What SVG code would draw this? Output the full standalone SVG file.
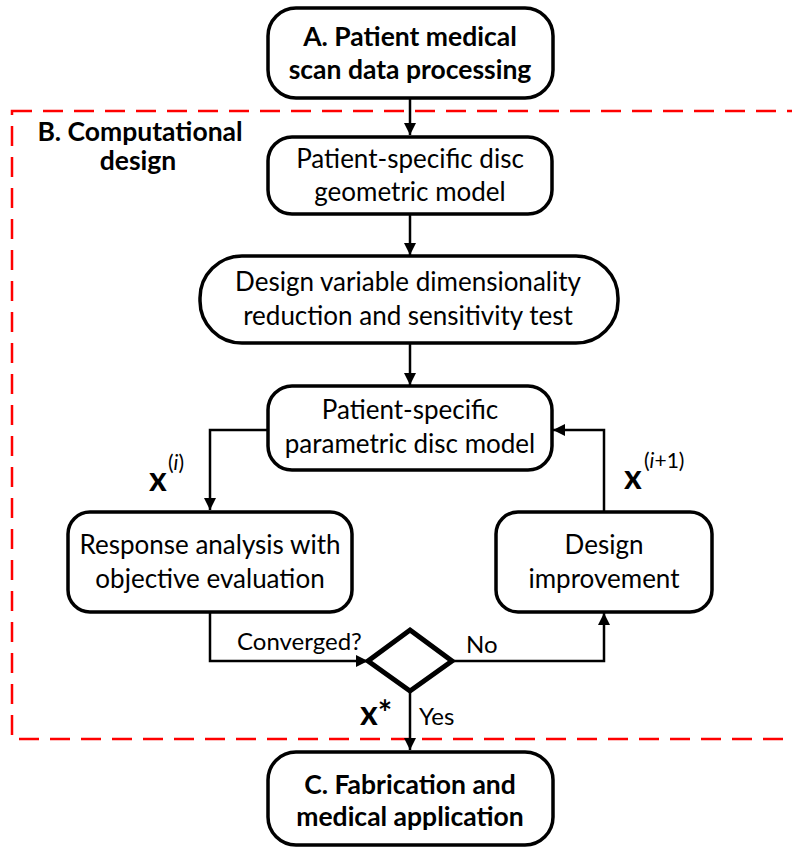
<svg xmlns="http://www.w3.org/2000/svg" width="792" height="849" viewBox="0 0 792 849">
<style>
.node{fill:#fff;stroke:#000;stroke-width:3.5}
.t{font-family:Lato,"Liberation Sans",sans-serif;font-size:26px;fill:#000;text-anchor:middle}
.b{font-weight:bold;font-size:26.5px}
.c{fill:none;stroke:#000;stroke-width:2.5}
.lbl{font-family:Lato,"Liberation Sans",sans-serif;font-size:24px;fill:#000}
.x{font-family:Lato,"Liberation Sans",sans-serif;font-weight:bold;font-size:34px;fill:#000}
.sup{font-family:Lato,"Liberation Sans",sans-serif;font-size:21px;fill:#000}
</style>
<defs>
<marker id="ah" viewBox="0 0 12 12" refX="12" refY="6" markerWidth="12" markerHeight="12" markerUnits="userSpaceOnUse" orient="auto">
<path d="M0,0 L12,6 L0,12 Z" fill="#000"/>
</marker>
</defs>
<rect id="region-b" x="12" y="111" width="800" height="628" fill="none" stroke="#ff0000" stroke-width="2.5" stroke-dasharray="20,11"/>
<g id="connectors">
<path class="c" d="M410,98 V135" marker-end="url(#ah)"/>
<path class="c" d="M410,214 V255" marker-end="url(#ah)"/>
<path class="c" d="M410,343 V385" marker-end="url(#ah)"/>
<path class="c" d="M268,430 H210 V510" marker-end="url(#ah)"/>
<path class="c" d="M604,512 V430 H553" marker-end="url(#ah)"/>
<path class="c" d="M210,612 V661 H368" marker-end="url(#ah)"/>
<path class="c" d="M452,661 H604 V613" marker-end="url(#ah)"/>
<path class="c" d="M410,690 V750" marker-end="url(#ah)"/>
</g>
<g id="node-a">
<rect class="node" x="268" y="8" width="285" height="90" rx="28"/>
<text class="t b" x="410" y="46">A. Patient medical</text>
<text class="t b" x="410" y="79">scan data processing</text>
</g>
<g id="label-b">
<text class="t b" x="140" y="141">B. Computational</text>
<text class="t b" x="138" y="170">design</text>
</g>
<g id="node-geom">
<rect class="node" x="268" y="137" width="284" height="77" rx="24"/>
<text class="t" x="410" y="168">Patient-specific disc</text>
<text class="t" x="410" y="201">geometric model</text>
</g>
<g id="node-dim">
<rect class="node" x="200" y="256" width="418" height="87" rx="42"/>
<text class="t" x="408" y="291">Design variable dimensionality</text>
<text class="t" x="408" y="325">reduction and sensitivity test</text>
</g>
<g id="node-param">
<rect class="node" x="268" y="386" width="284" height="84" rx="24"/>
<text class="t" x="410" y="419">Patient-specific</text>
<text class="t" x="410" y="453">parametric disc model</text>
</g>
<g id="node-resp">
<rect class="node" x="68" y="512" width="284" height="100" rx="22"/>
<text class="t" x="210" y="554">Response analysis with</text>
<text class="t" x="210" y="588">objective evaluation</text>
</g>
<g id="node-improve">
<rect class="node" x="496" y="512" width="216" height="100" rx="22"/>
<text class="t" x="604" y="554">Design</text>
<text class="t" x="604" y="588">improvement</text>
</g>
<g id="node-decision">
<polygon points="410,630 452,661 410,691 368,661" fill="#fff" stroke="#000" stroke-width="5" stroke-linejoin="miter"/>
</g>
<g id="node-c">
<rect class="node" x="268" y="752" width="285" height="93" rx="28"/>
<text class="t b" x="410" y="794">C. Fabrication and</text>
<text class="t b" x="410" y="826">medical application</text>
</g>
<g id="labels">
<text class="x" x="149" y="491">x</text>
<text class="sup" x="168" y="470">(<tspan font-style="italic">i</tspan>)</text>
<text class="x" x="624" y="489">x</text>
<text class="sup" x="644" y="468">(<tspan font-style="italic">i</tspan>+1)</text>
<text class="lbl" x="237" y="650">Converged?</text>
<text class="lbl" x="466" y="653">No</text>
<text class="x" x="360" y="725">x*</text>
<text class="lbl" x="419" y="725">Yes</text>
</g>
</svg>
